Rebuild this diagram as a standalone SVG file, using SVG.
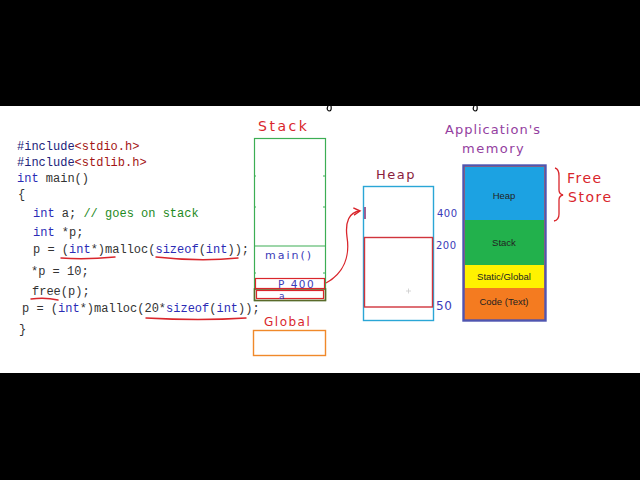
<svg xmlns="http://www.w3.org/2000/svg" width="640" height="480" viewBox="0 0 640 480">
<style>
.code{font-family:"Liberation Mono","DejaVu Sans Mono",monospace;font-size:12px;fill:#333}
.kw{fill:#2b2bb5}
.inc{fill:#23237a}
.str{fill:#a31515}
.cm{fill:#1e8a1e}
.hand{font-family:"DejaVu Sans","Noto Sans",sans-serif;font-weight:normal}
.red{fill:#d9262c}
.blue{fill:#3a3ab8}
.ul{fill:none;stroke:#d9262c;stroke-width:1.4;stroke-linecap:round}
.seg{font-family:"Liberation Sans","Noto Sans",sans-serif;font-size:9.5px;text-anchor:middle;fill:#222}
</style>
<defs>
<marker id="ah" viewBox="0 0 10 10" refX="8" refY="5" markerWidth="7" markerHeight="7" orient="auto">
<path d="M1,1 L8,5 L1,9" fill="none" stroke="#d9262c" stroke-width="1.6"/>
</marker>
</defs>
<rect x="0" y="0" width="640" height="480" fill="#000"/>
<rect x="0" y="106" width="640" height="267" fill="#fff"/>
<path d="M328,106 q-2,4 1,5 q3,0 2,-5 M474,106 q-2,4 1,5 q3,0 2,-5" fill="none" stroke="#000" stroke-width="1.2"/>

<g id="code">
<text class="code" x="17" y="150"><tspan class="inc">#include</tspan><tspan class="str">&lt;stdio.h&gt;</tspan></text>
<text class="code" x="17" y="166"><tspan class="inc">#include</tspan><tspan class="str">&lt;stdlib.h&gt;</tspan></text>
<text class="code" x="17" y="182"><tspan class="kw">int</tspan> main()</text>
<text class="code" x="18" y="198">{</text>
<text class="code" x="33" y="217"><tspan class="kw">int</tspan> a; <tspan class="cm">// goes on stack</tspan></text>
<text class="code" x="33" y="236"><tspan class="kw">int</tspan> *p;</text>
<text class="code" x="33" y="253">p = (<tspan class="kw">int</tspan>*)malloc(<tspan class="kw">sizeof</tspan>(<tspan class="kw">int</tspan>));</text>
<text class="code" x="31" y="275">*p = 10;</text>
<text class="code" x="32" y="295">free(p);</text>
<text class="code" x="22" y="312">p = (<tspan class="kw">int</tspan>*)malloc(20*<tspan class="kw">sizeof</tspan>(<tspan class="kw">int</tspan>));</text>
<text class="code" x="19" y="333">}</text>
<path class="ul" d="M61,258 Q85,260 115,257"/>
<path class="ul" d="M156,257 Q200,262 238,258"/>
<path class="ul" d="M31,299 Q45,297 58,300"/>
<path class="ul" d="M146,318 Q200,321 246,318"/>
</g>

<g id="stack">
<text class="hand red" x="258" y="131" font-size="14" letter-spacing="2.5">Stack</text>
<rect x="254.5" y="138.5" width="71" height="162" fill="none" stroke="#3cae54" stroke-width="1.2"/>
<line x1="254.5" y1="246" x2="325.5" y2="246" stroke="#3cae54" stroke-width="1.2"/>
<path d="M254,176 h2 M323,176 h2 M254,207 h2 M323,207 h2 M254,273 h2 M323,273 h2" stroke="#3cae54" stroke-width="1"/>
<text class="hand blue" x="265" y="259" font-size="11" letter-spacing="2">main()</text>
<rect x="254.5" y="289" width="71" height="11.5" fill="none" stroke="#5a6a2a" stroke-width="1.6"/>
<rect x="255.5" y="278.5" width="69" height="10" fill="none" stroke="#d9262c" stroke-width="1.2"/>
<rect x="256.5" y="290.5" width="67" height="8" fill="none" stroke="#d9262c" stroke-width="1.2"/>
<text class="hand blue" x="278" y="287.5" font-size="10.5" letter-spacing="1.5">P 400</text>
<text class="hand blue" x="279" y="299" font-size="9">a</text>
</g>

<g id="global">
<text class="hand red" x="264" y="326" font-size="12" letter-spacing="1.5">Global</text>
<rect x="253.5" y="330.5" width="72" height="25" fill="none" stroke="#f0892a" stroke-width="1.4"/>
</g>

<g id="heap">
<text class="hand" x="376" y="179" font-size="13" letter-spacing="1.5" fill="#8b1d3c">Heap</text>
<rect x="363.5" y="186.5" width="70" height="134" fill="none" stroke="#2aa6d6" stroke-width="1.4"/>
<rect x="364.5" y="237.5" width="68" height="69.5" fill="none" stroke="#d0343c" stroke-width="1.4"/>
<line x1="365" y1="207" x2="365" y2="219" stroke="#8a3a7a" stroke-width="1.6"/>
<path d="M406,291 h5 M408.5,288.5 v5" stroke="#ccc" stroke-width="0.8"/>
<text class="hand blue" x="437" y="217" font-size="10" letter-spacing="0.5">400</text>
<text class="hand blue" x="436" y="249" font-size="10" letter-spacing="0.5">200</text>
<text class="hand blue" x="436" y="310" font-size="12" letter-spacing="0.5">50</text>
</g>

<g id="connectors">
<path d="M326,283 C344,273 350,256 347,237 C345,222 349,212 360,211" fill="none" stroke="#d9262c" stroke-width="1.3" marker-end="url(#ah)"/>
</g>

<g id="memory">
<text class="hand" x="445" y="134" font-size="13" letter-spacing="1" fill="#9440a0">Application's</text>
<text class="hand" x="462" y="153" font-size="13" letter-spacing="1.5" fill="#9440a0">memory</text>
<rect x="463.5" y="165.5" width="82" height="155" fill="#f47b20" stroke="#4f55b0" stroke-width="2.4"/>
<rect x="465" y="167" width="79" height="53" fill="#1ca2e2"/>
<rect x="465" y="220" width="79" height="45" fill="#22b14c"/>
<rect x="465" y="265" width="79" height="23" fill="#fff200"/>
<rect x="465" y="288" width="79" height="31" fill="#f47b20"/>
<text class="seg" x="504" y="199">Heap</text>
<text class="seg" x="504" y="246">Stack</text>
<text class="seg" x="504" y="280">Static/Global</text>
<text class="seg" x="504" y="305">Code (Text)</text>
</g>

<g id="freestore">
<path d="M555,168 q4,1 4,8 v14 q0,4 4,5 q-4,1 -4,5 v14 q0,6 -5,7" fill="none" stroke="#d9262c" stroke-width="1.3"/>
<text class="hand red" x="567" y="183" font-size="14" letter-spacing="1.5">Free</text>
<text class="hand red" x="568" y="202" font-size="14" letter-spacing="1.5">Store</text>
</g>
</svg>
